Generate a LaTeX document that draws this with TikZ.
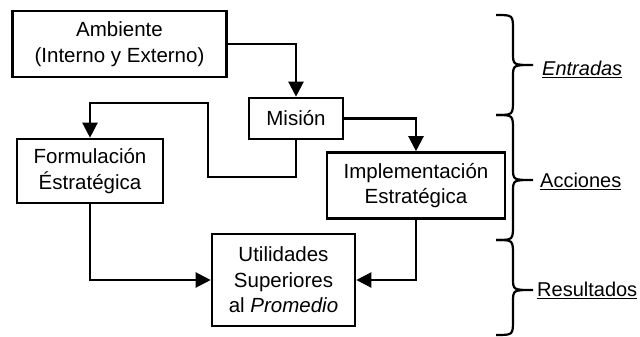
\documentclass[tikz,border=0pt]{standalone}
\usepackage{fontspec}
\setmainfont{Liberation Sans}
\usetikzlibrary{arrows.meta}
\begin{document}
\begin{tikzpicture}[x=1pt,y=-1pt,
  box/.style={draw,line width=2.6pt,align=center,inner sep=0pt,
    font=\fontsize{20.5}{25.5}\selectfont},
  arr/.style={line width=2.2pt,-{Triangle[width=15pt,length=15pt]}},
  brc/.style={line width=2.2pt},
  lbl/.style={anchor=west,inner sep=0pt,font=\fontsize{20}{24}\selectfont}]
\useasboundingbox (0,0) rectangle (640,337);
\node[box,minimum width=214pt,minimum height=66pt] (amb) at (119.5,44) {Ambiente\\(Interno y Externo)};
\node[box,minimum width=94pt,minimum height=41pt] (mis) at (296,118.5) {Misión};
\node[box,minimum width=146pt,minimum height=64pt] (form) at (90,171) {Formulación\\Éstratégica};
\node[box,minimum width=178pt,minimum height=66pt] (impl) at (416,185.5) {Implementación\\Estratégica};
\node[box,minimum width=143pt,minimum height=92pt] (util) at (283.5,280) {Utilidades\\Superiores\\al \textit{Promedio}};
\coordinate (c1) at (296,177);
\coordinate (c2) at (208,177);
\coordinate (c3) at (208,103);
\coordinate (c4) at (90,103);
\draw[arr] (amb.east) -| (mis.north);
\draw[arr] (mis.east) -| (impl.north);
\draw[arr] (mis.south) -- (c1) -- (c2) -- (c3) -- (c4) -- (form.north);
\draw[arr] (form.south) |- (util.west);
\draw[arr] (impl.south) |- (util.east);
% braces
\draw[brc] (496,15) .. controls (513,15) .. (513,30) -- (513,53) .. controls (513,65) .. (533,65)
  .. controls (513,65) .. (513,77) -- (513,100) .. controls (513,115) .. (496,115);
\draw[brc] (496,115) .. controls (513,115) .. (513,130) -- (513,168) .. controls (513,180) .. (533,180)
  .. controls (513,180) .. (513,192) -- (513,225) .. controls (513,240) .. (496,240);
\draw[brc] (496,240) .. controls (513,240) .. (513,255) -- (513,278) .. controls (513,290) .. (533,290)
  .. controls (513,290) .. (513,302) -- (513,320) .. controls (513,335) .. (496,335);
\node[lbl] (ent) at (542,69) {\underline{\textit{Entradas}}};
\node[lbl] (acc) at (540,181) {\underline{Acciones}};
\node[lbl] (res) at (537,290) {\underline{Resultados}};
\end{tikzpicture}
\end{document}
